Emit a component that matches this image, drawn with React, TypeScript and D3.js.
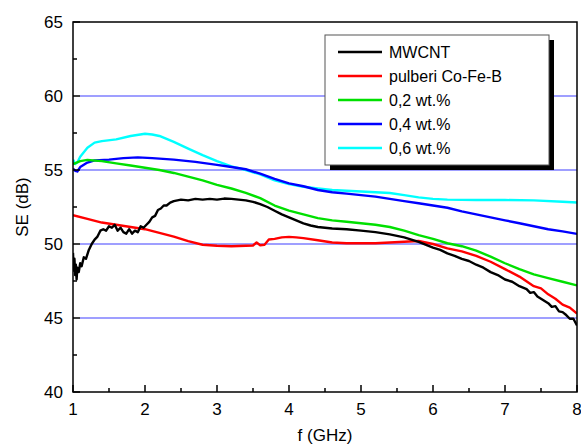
import React from "react";
import * as d3 from "d3";

const yTicks = [40, 45, 50, 55, 60, 65];
const yMinor = [42.5, 47.5, 52.5, 57.5, 62.5];
const xTicks = [1, 2, 3, 4, 5, 6, 7, 8];
const xMinor = [1.5, 2.5, 3.5, 4.5, 5.5, 6.5, 7.5];
const gridValues = [45, 50, 55, 60];

const seriesNames = ["MWCNT", "pulberi Co-Fe-B", "0,2 wt.%", "0,4 wt.%", "0,6 wt.%"];
const seriesColors = ["#000000", "#ff0000", "#00e000", "#0000ff", "#00ffff"];

const mwcntF = [1.00,1.01,1.02,1.03,1.04,1.05,1.06,1.08,1.10,1.12,1.15,1.18,1.22,1.26,1.30,1.34,1.38,1.42,1.46,1.50,1.54,1.58,1.62,1.66,1.70,1.74,1.78,1.82,1.86,1.90,1.94,1.98,2.02,2.06,2.10,2.14,2.18,2.22,2.26,2.30,2.35,2.40,2.5,2.6,2.7,2.8,2.9,3.0,3.1,3.2,3.3,3.4,3.5,3.6,3.7,3.8,3.9,4.0,4.1,4.2,4.3,4.4,4.6,4.8,5.0,5.2,5.4,5.6,5.8,6.0,6.1,6.2,6.3,6.4,6.5,6.6,6.7,6.8,6.9,7.0,7.1,7.2,7.3,7.35,7.4,7.45,7.5,7.55,7.6,7.65,7.7,7.75,7.8,7.85,7.9,7.95,8.0];
const mwcntSE = [49.4,48.2,49.0,47.9,48.6,47.6,48.4,48.1,48.7,48.5,49.1,49.0,49.6,50.0,50.3,50.5,50.9,51.0,50.9,51.2,51.1,51.3,50.9,51.1,50.8,50.7,51.0,50.7,50.9,50.8,51.2,51.1,51.3,51.5,51.8,51.9,52.3,52.4,52.6,52.6,52.8,52.9,53.0,52.95,53.05,53.0,53.05,53.0,53.07,53.05,53.0,52.95,52.85,52.7,52.5,52.25,52.0,51.8,51.6,51.4,51.25,51.15,51.05,51.0,50.9,50.8,50.65,50.45,50.15,49.75,49.6,49.37,49.2,49.0,48.85,48.6,48.4,48.1,47.9,47.6,47.45,47.15,46.95,46.7,46.75,46.45,46.3,46.15,46.0,45.75,45.8,45.45,45.4,45.2,44.95,44.95,44.5];

const cofebF = [1.0,1.2,1.4,1.6,1.8,2.0,2.2,2.4,2.6,2.8,3.0,3.2,3.4,3.5,3.55,3.6,3.66,3.72,3.8,3.9,4.0,4.1,4.2,4.4,4.6,4.8,5.0,5.2,5.4,5.6,5.8,6.0,6.2,6.4,6.6,6.8,7.0,7.2,7.4,7.5,7.6,7.7,7.8,7.9,8.0];
const cofebSE = [51.95,51.7,51.45,51.3,51.15,51.0,50.75,50.5,50.2,49.95,49.88,49.85,49.88,49.9,50.1,49.92,49.95,50.3,50.35,50.45,50.48,50.45,50.4,50.25,50.1,50.05,50.05,50.05,50.1,50.15,50.2,50.0,49.7,49.5,49.2,48.8,48.3,47.8,47.15,47.0,46.6,46.3,45.9,45.7,45.3];

const wt02F = [1.0,1.05,1.1,1.2,1.4,1.6,1.8,2.0,2.2,2.4,2.6,2.8,3.0,3.2,3.4,3.6,3.8,4.0,4.2,4.4,4.6,4.8,5.0,5.2,5.4,5.6,5.8,6.0,6.2,6.4,6.6,6.8,7.0,7.2,7.4,7.6,7.8,8.0];
const wt02SE = [55.4,55.5,55.6,55.68,55.6,55.45,55.3,55.15,55.0,54.8,54.55,54.3,54.0,53.75,53.45,53.1,52.6,52.25,52.0,51.75,51.6,51.5,51.4,51.3,51.15,50.9,50.6,50.35,50.05,49.85,49.55,49.15,48.7,48.3,47.95,47.7,47.45,47.2];

const wt04F = [1.0,1.03,1.06,1.1,1.2,1.3,1.5,1.7,1.9,2.1,2.4,2.7,3.0,3.2,3.4,3.6,3.8,4.0,4.2,4.4,4.6,4.8,5.0,5.2,5.4,5.6,5.8,6.0,6.2,6.4,6.6,6.8,7.0,7.2,7.4,7.6,7.8,8.0];
const wt04SE = [55.1,54.95,54.9,55.2,55.5,55.65,55.7,55.8,55.85,55.8,55.7,55.55,55.35,55.2,55.05,54.75,54.4,54.1,53.9,53.65,53.5,53.4,53.3,53.2,53.05,52.9,52.75,52.6,52.45,52.2,52.0,51.8,51.6,51.4,51.2,51.0,50.85,50.68];

const wt06F = [1.0,1.03,1.06,1.1,1.2,1.3,1.4,1.6,1.8,2.0,2.1,2.2,2.4,2.6,2.8,3.0,3.2,3.4,3.6,3.8,4.0,4.2,4.4,4.6,4.8,5.0,5.2,5.4,5.6,5.8,6.0,6.2,6.6,7.0,7.4,7.8,8.0];
const wt06SE = [55.7,55.4,55.5,55.9,56.5,56.85,56.95,57.07,57.3,57.45,57.4,57.3,56.9,56.45,56.0,55.6,55.25,55.0,54.7,54.3,54.05,53.87,53.76,53.65,53.6,53.55,53.5,53.45,53.3,53.15,53.05,53.0,52.97,52.97,52.95,52.85,52.8];

const seriesF = [mwcntF, cofebF, wt02F, wt04F, wt06F];
const seriesSE = [mwcntSE, cofebSE, wt02SE, wt04SE, wt06SE];

const W = 581;
const H = 446;
const L = 73, R = 577, T = 22, B = 392;
const FONT = "'Liberation Sans', Arial, sans-serif";

export default function App() {
  const x = d3.scaleLinear().domain([1, 8]).range([L, R]);
  const y = d3.scaleLinear().domain([40, 65]).range([B, T]);
  const line = d3.line<[number, number]>().x((d) => x(d[0])).y((d) => y(d[1]));
  const order = [4, 3, 2, 1, 0];
  const legX = 325, legY = 35, legW = 224, legH = 130;
  return (
    <svg width={W} height={H} style={{ position: "absolute", left: 0, top: 0 }}>
      <rect x={0} y={0} width={W} height={H} fill="#fff" />
      <defs>
        <clipPath id="plot">
          <rect x={L} y={T} width={R - L} height={B - T} />
        </clipPath>
      </defs>
      {gridValues.map((v) => (
        <line key={v} x1={L + 7} x2={R} y1={y(v)} y2={y(v)} stroke="#7f7fff" strokeWidth={1.5} />
      ))}
      <g clipPath="url(#plot)">
        {order.map((i) => (
          <path
            key={i}
            d={line(seriesF[i].map((f, k) => [f, seriesSE[i][k]] as [number, number])) || ""}
            fill="none"
            stroke={seriesColors[i]}
            strokeWidth={2.4}
            strokeLinejoin="round"
          />
        ))}
      </g>
      <rect x={L} y={T} width={R - L} height={B - T} fill="none" stroke="#000" strokeWidth={1.5} />
      {yTicks.map((v) => (
        <g key={v}>
          <line x1={L} x2={L + 7} y1={y(v)} y2={y(v)} stroke="#000" strokeWidth={1.5} />
          <text x={63} y={y(v) + 6} textAnchor="end" fontFamily={FONT} fontSize={17} fill="#000">{v}</text>
        </g>
      ))}
      {yMinor.map((v) => (
        <line key={v} x1={L} x2={L + 4} y1={y(v)} y2={y(v)} stroke="#000" strokeWidth={1.5} />
      ))}
      {xTicks.map((v) => (
        <g key={v}>
          <line x1={x(v)} x2={x(v)} y1={B} y2={B - 7} stroke="#000" strokeWidth={1.5} />
          <text x={x(v)} y={415} textAnchor="middle" fontFamily={FONT} fontSize={17} fill="#000">{v}</text>
        </g>
      ))}
      {xMinor.map((v) => (
        <line key={v} x1={x(v)} x2={x(v)} y1={B} y2={B - 4} stroke="#000" strokeWidth={1.5} />
      ))}
      <text x={(L + R) / 2} y={441} textAnchor="middle" fontFamily={FONT} fontSize={17} fill="#000">f (GHz)</text>
      <text transform={`translate(28,${(T + B) / 2}) rotate(-90)`} textAnchor="middle" fontFamily={FONT} fontSize={17} fill="#000">SE (dB)</text>
      <rect x={legX + 5} y={legY + 5} width={legW} height={legH} fill="#000" />
      <rect x={legX} y={legY} width={legW} height={legH} fill="#fff" stroke="#555" strokeWidth={1} />
      {seriesNames.map((n, i) => (
        <g key={n}>
          <line x1={338} x2={382} y1={legY + 17 + i * 24} y2={legY + 17 + i * 24} stroke={seriesColors[i]} strokeWidth={2.4} />
          <text x={389} y={legY + 23 + i * 24} fontFamily={FONT} fontSize={16} fill="#000">{n}</text>
        </g>
      ))}
    </svg>
  );
}
